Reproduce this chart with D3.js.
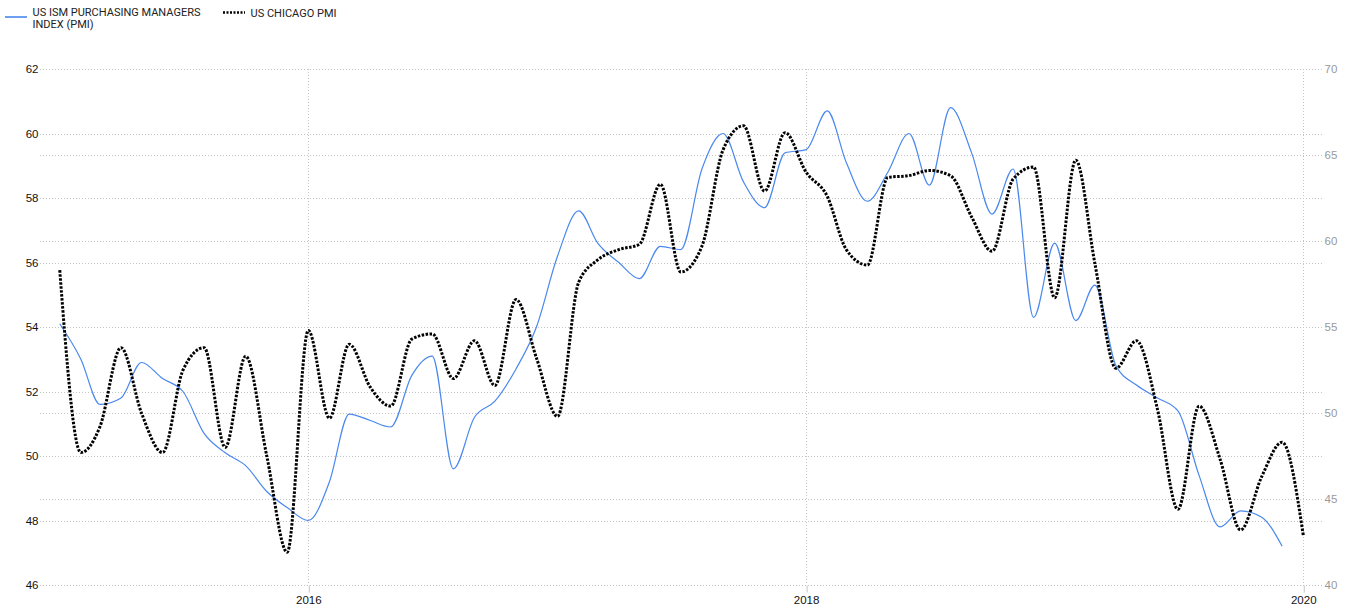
<!DOCTYPE html>
<html>
<head>
<meta charset="utf-8">
<script src="https://cdn.jsdelivr.net/npm/d3@7"></script>
<style>
    html, body { margin: 0; padding: 0; background: #fff; }
    svg { display: block; font-family: "Liberation Sans", Arial, sans-serif; }
</style>
</head>
<body>
<div id="plot"></div>
<script>
// Months on the X axis, Jan 2015 .. Jan 2020.
const months = d3.timeMonth.range(new Date(2015, 0, 1), new Date(2020, 1, 1));

// US ISM PMI, Jan 2015 .. Dec 2019 (left axis).
const ism_values = [
    54.1, 53.0, 51.6, 51.8, 52.9, 52.4, 52.0, 50.7, 50.1, 49.7, 48.9, 48.4,
    48.0, 49.2, 51.3, 51.1, 50.9, 52.5, 53.1, 49.6, 51.2, 51.7, 52.7, 54.0,
    56.2, 57.6, 56.6, 56.0, 55.5, 56.5, 56.4, 58.9, 60.0, 58.5, 57.7, 59.4,
    59.5, 60.7, 59.1, 57.9, 58.8, 60.0, 58.4, 60.8, 59.4, 57.5, 58.9, 54.3,
    56.6, 54.2, 55.3, 52.8, 52.2, 51.8, 51.4, 49.4, 47.8, 48.3, 48.1, 47.2
];

// US Chicago PMI, Jan 2015 .. Jan 2020 (right axis).
const chicago_values = [
    58.3, 47.7, 49.2, 53.8, 50.0, 47.7, 52.5, 53.8, 48.0, 53.3, 47.5, 41.9,
    54.8, 49.7, 54.0, 51.5, 50.4, 54.3, 54.6, 52.0, 54.2, 51.6, 56.6, 53.2,
    49.8, 57.6, 58.9, 59.5, 59.8, 63.3, 58.2, 59.7, 65.3, 66.7, 62.9, 66.3,
    64.0, 62.6, 59.5, 58.6, 63.7, 63.8, 64.1, 63.8, 61.4, 59.4, 63.6, 64.3,
    56.7, 64.7, 58.7, 52.6, 54.2, 50.2, 44.4, 50.4, 47.3, 43.2, 46.3, 48.3,
    42.9
];

// Axis ticks.
const left_ticks = [46, 48, 50, 52, 54, 56, 58, 60, 62];
const right_ticks = [40, 45, 50, 55, 60, 65, 70];
const year_ticks = [2016, 2018, 2020];

// Legend labels.
const ism_label = ["US ISM PURCHASING MANAGERS", "INDEX (PMI)"];
const chicago_label = "US CHICAGO PMI";

let PmiChart = class {
    // Canvas and plot area.
    width = 1347; height = 613;
    left = 40; right = 1323; top = 69; bottom = 585;

    ism_color = "#4a88ee";
    grid_color = "#c4c4c4";

    svg; x; y_left; y_right;

    constructor() {
        this.svg = d3.select("div#plot").append("svg")
            .attr("width", this.width)
            .attr("height", this.height);

        this.x = d3.scaleTime()
            .domain([new Date(2014, 11, 3), new Date(2020, 0, 30)])
            .range([this.left, this.right]);

        this.y_left = d3.scaleLinear()
            .domain([46, 62])
            .range([this.bottom, this.top]);

        this.y_right = d3.scaleLinear()
            .domain([40, 70])
            .range([this.bottom, this.top]);
    }

    draw() {
        this.draw_grid();
        this.draw_axes();
        this.draw_lines();
        this.draw_legend();
    }

    draw_grid() {
        var grid = this.svg.append("g").attr("id", "grid");
        var ys = left_ticks.map(d => this.y_left(d))
            .concat(right_ticks.map(d => this.y_right(d)));

        grid.selectAll("line.h")
            .data(ys)
            .join("line")
                .attr("class", "h")
                .attr("x1", this.left)
                .attr("x2", this.right)
                .attr("y1", d => Math.round(d) + 0.5)
                .attr("y2", d => Math.round(d) + 0.5)
                .style("stroke", this.grid_color)
                .style("stroke-dasharray", "1,2");

        grid.selectAll("line.v")
            .data(year_ticks)
            .join("line")
                .attr("class", "v")
                .attr("x1", d => Math.round(this.x(new Date(d, 0, 1))) + 0.5)
                .attr("x2", d => Math.round(this.x(new Date(d, 0, 1))) + 0.5)
                .attr("y1", this.top)
                .attr("y2", this.bottom)
                .style("stroke", this.grid_color)
                .style("stroke-dasharray", "1,2");
    }

    draw_axes() {
        // Left axis, labels only (grid drawn separately).
        var left_axis = this.svg.append("g")
            .attr("transform", "translate(" + this.left + ",0)")
            .call(d3.axisLeft(this.y_left).tickValues(left_ticks).tickSize(0).tickPadding(1.5));

        // Right axis, grey labels.
        var right_axis = this.svg.append("g")
            .attr("transform", "translate(" + this.right + ",0)")
            .call(d3.axisRight(this.y_right).tickValues(right_ticks).tickSize(0).tickPadding(1.5));

        // Bottom axis with short solid ticks below the plot.
        var x_axis = this.svg.append("g")
            .attr("transform", "translate(0," + (this.bottom + 0.5) + ")")
            .call(d3.axisBottom(this.x)
                .tickValues(year_ticks.map(d => new Date(d, 0, 1)))
                .tickFormat(d3.timeFormat("%Y"))
                .tickSize(7).tickPadding(3.5));

        [left_axis, right_axis, x_axis].forEach(a => {
            a.select(".domain").remove();
            a.selectAll("text")
                .style("font-family", "'Liberation Sans', Arial, sans-serif")
                .style("font-size", "11.5px");
        });

        left_axis.selectAll("text").style("fill", "#111");
        right_axis.selectAll("text").style("fill", "#999");
        x_axis.selectAll("text").style("fill", "#111");
        x_axis.selectAll(".tick line")
            .attr("transform", "translate(0.5,0)")
            .style("stroke", "#c4c4c4");
    }

    draw_lines() {
        var ism_line = d3.line()
            .x((d, i) => this.x(months[i]))
            .y(d => this.y_left(d))
            .curve(d3.curveMonotoneX);

        var chicago_line = d3.line()
            .x((d, i) => this.x(months[i]))
            .y(d => this.y_right(d))
            .curve(d3.curveMonotoneX);

        this.svg.append("path")
            .datum(ism_values)
            .attr("d", ism_line)
            .style("fill", "none")
            .style("stroke", this.ism_color)
            .style("stroke-width", 1.2);

        this.svg.append("path")
            .datum(chicago_values)
            .attr("d", chicago_line)
            .style("fill", "none")
            .style("stroke", "#000")
            .style("stroke-width", 3)
            .style("stroke-dasharray", "2.5,1.5");
    }

    draw_legend() {
        var legend = this.svg.append("g")
            .attr("id", "legend")
            .style("font-family", "Roboto, 'Liberation Sans', sans-serif")
            .style("font-size", "11px")
            .style("fill", "#222");

        legend.append("line")
            .attr("x1", 5).attr("x2", 27)
            .attr("y1", 17).attr("y2", 17)
            .style("stroke", this.ism_color)
            .style("stroke-width", 1.6);

        legend.selectAll("text.ism")
            .data(ism_label)
            .join("text")
                .attr("class", "ism")
                .attr("x", 32.5)
                .attr("y", (d, i) => 15.5 + i * 12)
                .text(d => d);

        legend.append("line")
            .attr("x1", 223).attr("x2", 245)
            .attr("y1", 12.5).attr("y2", 12.5)
            .style("stroke", "#000")
            .style("stroke-width", 2.5)
            .style("stroke-dasharray", "2,1.5");

        legend.append("text")
            .attr("x", 250.5)
            .attr("y", 16.5)
            .text(chicago_label);
    }
}

var chart = new PmiChart();
chart.draw();
</script>
</body>
</html>
